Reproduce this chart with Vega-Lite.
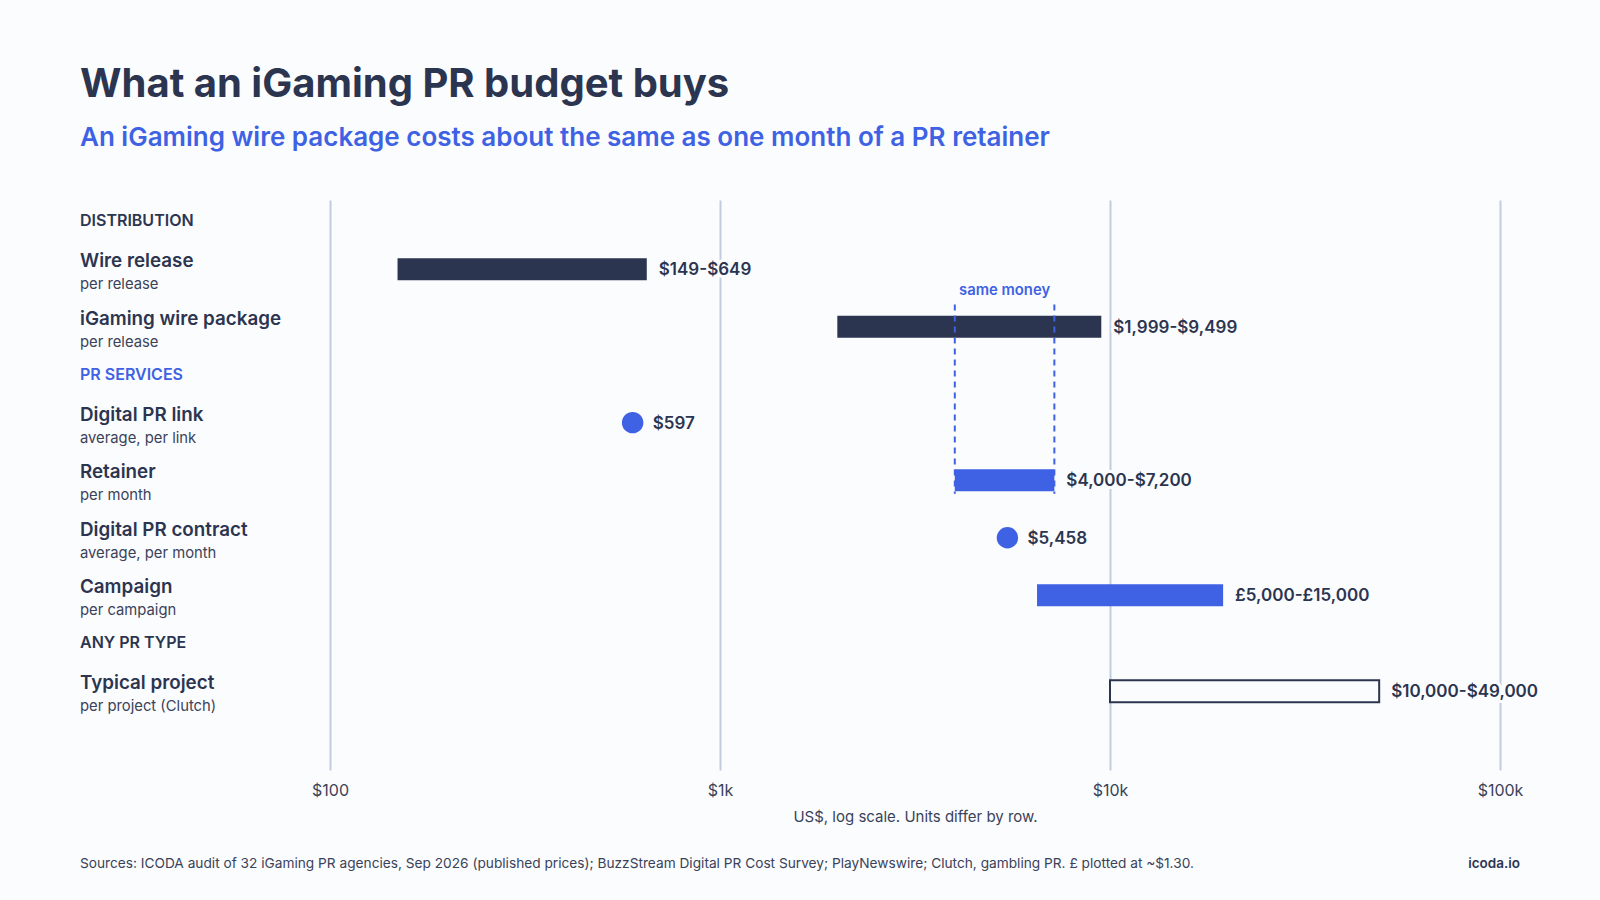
{
  "$schema": "https://vega.github.io/schema/vega-lite/v6.json",
  "width": 1170,
  "height": 570,
  "autosize": {"type": "none"},
  "padding": {"left": 330, "top": 200, "right": 100, "bottom": 130},
  "background": "#fbfcfe",
  "title": {
    "text": "What an iGaming PR budget buys",
    "subtitle": "An iGaming wire package costs about the same as one month of a PR retainer",
    "anchor": "start",
    "frame": "group",
    "dx": -250,
    "offset": 49,
    "font": "Inter",
    "fontSize": 40,
    "fontWeight": 700,
    "color": "#2c3550",
    "subtitleFont": "Inter",
    "subtitleFontSize": 26,
    "subtitleFontWeight": 600,
    "subtitleColor": "#3e62e3",
    "subtitlePadding": 20
  },
  "config": {
    "view": {"stroke": null},
    "font": "Inter",
    "axis": {"domain": false, "ticks": false}
  },
  "datasets": {
    "prices": [
      {"row": "Wire release", "unit": "per release", "section": "Distribution", "shape": "range", "low": 149, "high": 649, "price": "$149-$649"},
      {"row": "iGaming wire package", "unit": "per release", "section": "Distribution", "shape": "range", "low": 1999, "high": 9499, "price": "$1,999-$9,499"},
      {"row": "Digital PR link", "unit": "average, per link", "section": "PR services", "shape": "dot", "low": 597, "high": 597, "price": "$597"},
      {"row": "Retainer", "unit": "per month", "section": "PR services", "shape": "range", "low": 4000, "high": 7200, "price": "$4,000-$7,200"},
      {"row": "Digital PR contract", "unit": "average, per month", "section": "PR services", "shape": "dot", "low": 5458, "high": 5458, "price": "$5,458"},
      {"row": "Campaign", "unit": "per campaign", "section": "PR services", "shape": "range", "low": 6500, "high": 19500, "price": "£5,000-£15,000"},
      {"row": "Typical project", "unit": "per project (Clutch)", "section": "Any PR type", "shape": "open", "low": 10000, "high": 49000, "price": "$10,000-$49,000"}
    ],
    "sections": [
      {"row": "DISTRIBUTION"},
      {"row": "PR SERVICES"},
      {"row": "ANY PR TYPE"}
    ],
    "sameMoney": [
      {"low": 4000, "high": 7200, "middle": 5367, "note": "same money"}
    ]
  },
  "layer": [
    {
      "data": {"name": "prices"},
      "transform": [{"filter": "datum.shape === 'range'"}],
      "mark": {"type": "bar", "size": 22},
      "encoding": {
        "x": {
          "field": "low",
          "type": "quantitative",
          "scale": {"type": "log", "domain": [100, 100000], "nice": false},
          "axis": {
            "values": [100, 1000, 10000, 100000],
            "labelExpr": "datum.value >= 1000 ? '$' + datum.value / 1000 + 'k' : '$' + datum.value",
            "title": "US$, log scale. Units differ by row.",
            "grid": true,
            "gridColor": "#c3cbde",
            "gridWidth": 2,
            "labelFlush": false,
            "labelFont": "Inter",
            "labelFontSize": 16,
            "labelColor": "#3a4259",
            "labelPadding": 12,
            "titleFont": "Inter",
            "titleFontSize": 15,
            "titleFontWeight": 400,
            "titleColor": "#3a4259",
            "titlePadding": 11
          }
        },
        "x2": {"field": "high"},
        "y": {
          "field": "row",
          "type": "nominal",
          "axis": null,
          "scale": {
            "type": "point",
            "padding": 0.21,
            "domain": [
              "top1", "top2", "DISTRIBUTION", "a1", "a2", "a3", "a4", "Wire release", "b1", "b2", "b3", "b4", "b5",
              "iGaming wire package", "c1", "c2", "c3", "c4", "PR SERVICES", "d1", "d2", "d3", "d4", "Digital PR link",
              "e1", "e2", "e3", "e4", "e5", "Retainer", "f1", "f2", "f3", "f4", "f5", "Digital PR contract",
              "g1", "g2", "g3", "g4", "g5", "Campaign", "h1", "h2", "h3", "h4", "ANY PR TYPE", "i1", "i2", "i3", "i4",
              "Typical project", "j1", "j2", "j3", "j4", "j5", "j6", "j7", "j8"
            ]
          }
        },
        "color": {
          "field": "section",
          "type": "nominal",
          "legend": null,
          "scale": {"domain": ["Distribution", "PR services"], "range": ["#2c3550", "#3e62e3"]}
        }
      }
    },
    {
      "data": {"name": "prices"},
      "transform": [{"filter": "datum.shape === 'open'"}],
      "mark": {"type": "bar", "size": 22, "fill": "#fbfcfe", "stroke": "#2c3550", "strokeWidth": 2},
      "encoding": {
        "x": {"field": "low", "type": "quantitative"},
        "x2": {"field": "high"},
        "y": {"field": "row", "type": "nominal"}
      }
    },
    {
      "data": {"name": "prices"},
      "transform": [{"filter": "datum.shape === 'dot'"}],
      "mark": {"type": "circle", "size": 460, "opacity": 1, "color": "#3e62e3"},
      "encoding": {
        "x": {"field": "low", "type": "quantitative"},
        "y": {"field": "row", "type": "nominal"}
      }
    },
    {
      "data": {"name": "sameMoney"},
      "mark": {"type": "rule", "color": "#3e62e3", "strokeWidth": 2, "strokeDash": [6, 5], "yOffset": -3, "y2Offset": 4},
      "encoding": {
        "x": {"field": "low", "type": "quantitative"},
        "y": {"datum": "b4"},
        "y2": {"datum": "f1"}
      }
    },
    {
      "data": {"name": "sameMoney"},
      "mark": {"type": "rule", "color": "#3e62e3", "strokeWidth": 2, "strokeDash": [6, 5], "yOffset": -3, "y2Offset": 4},
      "encoding": {
        "x": {"field": "high", "type": "quantitative"},
        "y": {"datum": "b4"},
        "y2": {"datum": "f1"}
      }
    },
    {
      "data": {"name": "sameMoney"},
      "mark": {"type": "text", "font": "Inter", "fontSize": 14.8, "fontWeight": 600, "color": "#3e62e3", "dy": 3},
      "encoding": {
        "x": {"field": "middle", "type": "quantitative"},
        "y": {"datum": "b2"},
        "text": {"field": "note"}
      }
    },
    {
      "data": {"name": "prices"},
      "transform": [{"filter": "datum.shape !== 'dot'"}],
      "mark": {"type": "text", "align": "left", "dx": 12, "dy": 1, "font": "Inter", "fontSize": 17, "fontWeight": 600, "stroke": "#fbfcfe", "strokeWidth": 6, "strokeJoin": "round"},
      "encoding": {
        "x": {"field": "high", "type": "quantitative"},
        "y": {"field": "row", "type": "nominal"},
        "text": {"field": "price"}
      }
    },
    {
      "data": {"name": "prices"},
      "transform": [{"filter": "datum.shape !== 'dot'"}],
      "mark": {"type": "text", "align": "left", "dx": 12, "dy": 1, "font": "Inter", "fontSize": 17, "fontWeight": 600, "color": "#2c3550"},
      "encoding": {
        "x": {"field": "high", "type": "quantitative"},
        "y": {"field": "row", "type": "nominal"},
        "text": {"field": "price"}
      }
    },
    {
      "data": {"name": "prices"},
      "transform": [{"filter": "datum.shape === 'dot'"}],
      "mark": {"type": "text", "align": "left", "dx": 20, "dy": 1, "font": "Inter", "fontSize": 17, "fontWeight": 600, "color": "#2c3550"},
      "encoding": {
        "x": {"field": "high", "type": "quantitative"},
        "y": {"field": "row", "type": "nominal"},
        "text": {"field": "price"}
      }
    },
    {
      "data": {"name": "prices"},
      "mark": {"type": "text", "align": "left", "dx": -250, "dy": -8, "font": "Inter", "fontSize": 18.8, "fontWeight": 600, "color": "#2c3550"},
      "encoding": {
        "x": {"datum": 100, "type": "quantitative"},
        "y": {"field": "row", "type": "nominal"},
        "text": {"field": "row"}
      }
    },
    {
      "data": {"name": "prices"},
      "mark": {"type": "text", "align": "left", "dx": -250, "dy": 16, "font": "Inter", "fontSize": 14.8, "color": "#3a4259"},
      "encoding": {
        "x": {"datum": 100, "type": "quantitative"},
        "y": {"field": "row", "type": "nominal"},
        "text": {"field": "unit"}
      }
    },
    {
      "data": {"name": "sections"},
      "mark": {"type": "text", "align": "left", "dx": -250, "dy": 0, "font": "Inter", "fontSize": 16, "fontWeight": 600},
      "encoding": {
        "x": {"datum": 100, "type": "quantitative"},
        "y": {"field": "row", "type": "nominal"},
        "text": {"field": "row"},
        "color": {"condition": {"test": "datum.row === 'PR SERVICES'", "value": "#3e62e3"}, "value": "#2c3550"}
      }
    },
    {
      "data": {"values": [{"note": "Sources: ICODA audit of 32 iGaming PR agencies, Sep 2026 (published prices); BuzzStream Digital PR Cost Survey; PlayNewswire; Clutch, gambling PR. £ plotted at ~$1.30."}]},
      "mark": {"type": "text", "align": "left", "dx": -250, "dy": 96, "font": "Inter", "fontSize": 13.7, "color": "#3a4259"},
      "encoding": {
        "x": {"datum": 100, "type": "quantitative"},
        "y": {"datum": "j8"},
        "text": {"field": "note"}
      }
    },
    {
      "data": {"values": [{"note": "icoda.io"}]},
      "mark": {"type": "text", "align": "right", "dx": 20, "dy": 96, "font": "Inter", "fontSize": 13.5, "fontWeight": 600, "color": "#2c3550"},
      "encoding": {
        "x": {"datum": 100000, "type": "quantitative"},
        "y": {"datum": "j8"},
        "text": {"field": "note"}
      }
    }
  ]
}
